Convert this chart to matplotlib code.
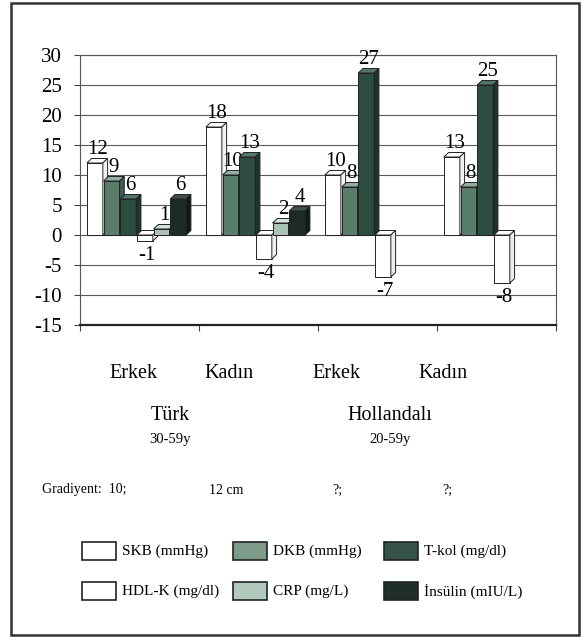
import matplotlib
matplotlib.use("Agg")
import matplotlib.pyplot as plt
from matplotlib.patches import Polygon, Rectangle
import numpy as np

plt.rcParams['font.family'] = ['Liberation Serif', 'DejaVu Serif']

# Groups (sex within population) and measured series
groups = ["Erkek", "Kadın", "Erkek", "Kadın"]
populations = ["Türk", "Hollandalı"]
age_ranges = ["30-59y", "20-59y"]
gradients = ["Gradiyent:  10;", "12 cm", "?;", "?;"]

series = ["SKB (mmHg)", "DKB (mmHg)", "T-kol (mg/dl)",
          "HDL-K (mg/dl)", "CRP (mg/L)", "İnsülin (mIU/L)"]
skb = [12, 18, 10, 13]
dkb = [9, 10, 8, 8]
tkol = [6, 13, 27, 25]
hdlk = [-1, -4, -7, -8]
crp = [1, 2, None, None]
insulin = [6, 4, None, None]
values = [skb, dkb, tkol, hdlk, crp, insulin]

yticks = [-15, -10, -5, 0, 5, 10, 15, 20, 25, 30]

front = ["#ffffff", "#587d6b", "#2e4d41", "#ffffff", "#a9c4b5", "#1d2b25"]
top = ["#ffffff", "#8fb0a0", "#55766a", "#ffffff", "#d3e3da", "#3e5048"]
side = ["#f2f2f2", "#3d5c4e", "#1e3329", "#eeeeee", "#86a393", "#101a15"]
legend_fc = ["#ffffff", "#7e9b8c", "#35534a", "#ffffff", "#b2cabd", "#1f2e28"]

W, H = 582, 638
fig = plt.figure(figsize=(W / 100, H / 100), dpi=100)

# Chart axes in pixel-derived figure fractions
ax_l, ax_r, ax_t, ax_b = 80, 556, 55, 325
ax = fig.add_axes([ax_l / W, 1 - ax_b / H, (ax_r - ax_l) / W, (ax_b - ax_t) / H])
ax.set_xlim(-0.5, 3.5)
ax.set_ylim(-15, 30)

pitch = 0.14
width = 0.134
dx, dy = 0.04, 0.75
x = np.arange(len(groups))

for i, (vals, name) in enumerate(zip(values, series)):
    z = 3 + 2 * i
    for g, v in enumerate(vals):
        if v is None:
            continue
        x0 = x[g] + (i - 2.5) * pitch - width / 2 - 0.025
        x1 = x0 + width
        ax.bar(x0, v, width=width, align="edge", color=front[i],
               edgecolor="#222222", linewidth=0.7, zorder=z)
        ytop = max(v, 0)
        ybot = min(v, 0)
        ax.add_patch(Polygon([(x0, ytop), (x0 + dx, ytop + dy), (x1 + dx, ytop + dy), (x1, ytop)],
                             closed=True, facecolor=top[i], edgecolor="#222222",
                             linewidth=0.7, zorder=z))
        ax.add_patch(Polygon([(x1, ybot), (x1, ytop), (x1 + dx, ytop + dy), (x1 + dx, ybot + dy)],
                             closed=True, facecolor=side[i], edgecolor="#222222",
                             linewidth=0.7, zorder=z))
        cx = (x0 + x1) / 2 + dx / 2
        if v >= 0:
            ax.text(cx, v + dy - 0.1, f"{v}", ha="center", va="bottom",
                    fontsize=15, zorder=z + 1)
        else:
            ax.text(cx, v - 0.9, f"{v}", ha="center", va="top",
                    fontsize=15, zorder=z + 1)

ax.set_yticks(yticks)
ax.set_yticklabels([str(t) for t in yticks], fontsize=15)
ax.yaxis.grid(True, color="#5a5a5a", linewidth=0.8, zorder=0)
ax.set_axisbelow(True)
ax.set_xticks(np.arange(-0.5, 4, 1.0))
ax.set_xticklabels([])
ax.tick_params(axis="x", length=4, direction="out", color="#444444")
ax.tick_params(axis="y", length=4, direction="out", color="#444444", pad=9)
for s in ["left", "right", "top"]:
    ax.spines[s].set_color("#555555")
    ax.spines[s].set_linewidth(0.8)
ax.spines["bottom"].set_color("#222222")
ax.spines["bottom"].set_linewidth(1.6)

# Overlay in pixel coordinates for the annotation block, legend and frame
ov = fig.add_axes([0, 0, 1, 1], zorder=-1)
ov.set_xlim(0, W)
ov.set_ylim(H, 0)
ov.axis("off")
ov.add_patch(Rectangle((11, 3), 568, 632, fill=False, edgecolor="#333333", linewidth=1.8))

cat_x = [133, 229, 336, 443]
for cx, lab in zip(cat_x, groups):
    ov.text(cx, 373, lab, ha="center", va="center", fontsize=14.5)

pop_x = [170, 390]
for px, pop, age in zip(pop_x, populations, age_ranges):
    ov.text(px, 415, pop, ha="center", va="center", fontsize=14.5)
    ov.text(px, 439, age, ha="center", va="center", fontsize=10.5)

ov.text(42, 490, gradients[0], ha="left", va="center", fontsize=10)
for gx, gt in zip([226, 337, 447], gradients[1:]):
    ov.text(gx, 490, gt, ha="center", va="center", fontsize=10)

# Legend laid out in two rows of three
leg_box_x = [82, 233, 384]
leg_row_y = [551, 591]
order = [[0, 1, 2], [3, 4, 5]]
for r, row in enumerate(order):
    for c, idx in enumerate(row):
        bx, by = leg_box_x[c], leg_row_y[r]
        ov.add_patch(Rectangle((bx, by - 9), 34, 18, facecolor=legend_fc[idx],
                               edgecolor="#222222", linewidth=1.2))
        ov.text(bx + 40, by, series[idx], ha="left", va="center", fontsize=11)

fig.savefig("out.png", dpi=100)
